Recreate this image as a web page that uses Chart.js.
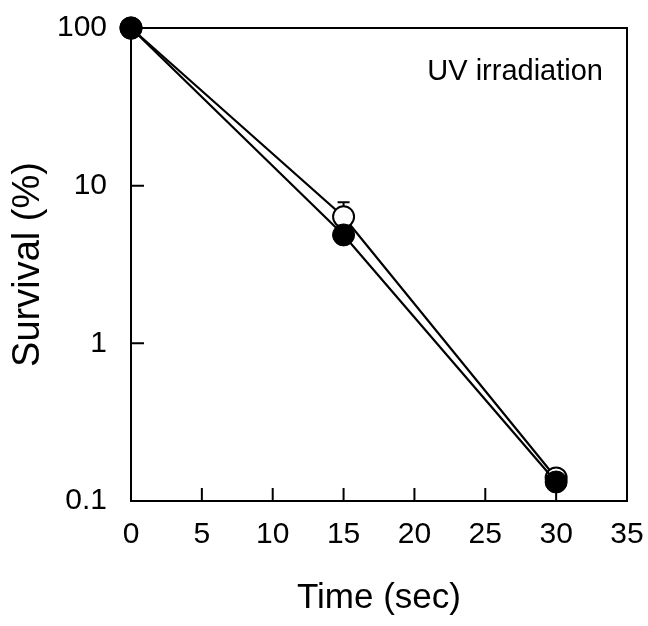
<!DOCTYPE html>
<html>
<head>
<meta charset="utf-8">
<script src="https://cdn.jsdelivr.net/npm/chart.js@4"></script>
<style>
  html, body { margin: 0; padding: 0; background: #fff; }
  #wrap { width: 648px; height: 626px; }
</style>
</head>
<body>
<div id="wrap"><canvas id="chart" width="648" height="626"></canvas></div>
<script>
const times = [0, 15, 30];
const filledSurvival = [100, 4.87, 0.132];
const openSurvival = [100, 6.35, 0.14];
const openError = [0, 1.5, 0];
const xTicks = [0, 5, 10, 15, 20, 25, 30, 35];
const yTicks = [0.1, 1, 10, 100];

const FONT = "'Liberation Sans', Arial, sans-serif";

const toPoints = (ys) => times.map((t, i) => ({ x: t, y: ys[i] }));

const noPad = (s) => {
    s.paddingLeft = 0; s.paddingRight = 0;
    s.paddingTop = 0; s.paddingBottom = 0;
};

// box, inward ticks, error bar, label
const framePlugin = {
    id: 'frame',
    beforeDatasetsDraw(chart) {
        const { ctx, scales: { x, y } } = chart;
        ctx.save();
        ctx.strokeStyle = '#000';
        ctx.lineWidth = 2;
        // error bars (under the markers)
        times.forEach((t, i) => {
            if (!openError[i]) return;
            const px = x.getPixelForValue(t);
            const top = y.getPixelForValue(openSurvival[i] + openError[i]);
            const bot = y.getPixelForValue(openSurvival[i] - openError[i]);
            ctx.beginPath();
            ctx.moveTo(px, top); ctx.lineTo(px, bot);
            ctx.moveTo(px - 6, top); ctx.lineTo(px + 6, top);
            ctx.stroke();
        });
        ctx.restore();
    },
    afterDraw(chart) {
        const { ctx, chartArea: a, scales: { x, y } } = chart;
        ctx.save();
        ctx.strokeStyle = '#000';
        ctx.lineWidth = 2;
        ctx.strokeRect(a.left, a.top, a.right - a.left, a.bottom - a.top);
        ctx.beginPath();
        xTicks.forEach(v => {
            const px = x.getPixelForValue(v);
            ctx.moveTo(px, a.bottom); ctx.lineTo(px, a.bottom - 13);
        });
        yTicks.forEach(v => {
            const py = y.getPixelForValue(v);
            ctx.moveTo(a.left, py); ctx.lineTo(a.left + 13, py);
        });
        ctx.stroke();
        ctx.fillStyle = '#000';
        ctx.font = '29px ' + FONT;
        ctx.textAlign = 'right';
        ctx.textBaseline = 'middle';
        ctx.fillText('UV irradiation', 603, 72);
        ctx.restore();
    }
};

const config = {
    type: 'line',
    data: {
        datasets: [
            {
                label: 'filled',
                data: toPoints(filledSurvival),
                borderColor: '#000',
                borderWidth: 2.2,
                backgroundColor: '#000',
                pointBackgroundColor: '#000',
                pointBorderColor: '#000',
                pointRadius: 11,
                pointBorderWidth: 1,
                clip: false,
                tension: 0
            },
            {
                label: 'open',
                data: toPoints(openSurvival),
                borderColor: '#000',
                borderWidth: 2.2,
                backgroundColor: '#fff',
                pointBackgroundColor: '#fff',
                pointBorderColor: '#000',
                pointRadius: 10.5,
                pointBorderWidth: 2,
                clip: false,
                tension: 0
            }
        ]
    },
    options: {
        responsive: false,
        animation: false,
        layout: { padding: { left: 0, top: 28, right: 21, bottom: 0 } },
        plugins: { legend: { display: false }, tooltip: { enabled: false } },
        scales: {
            x: {
                type: 'linear',
                min: 0,
                max: 35,
                afterBuildTicks: (s) => { s.ticks = xTicks.map(v => ({ value: v })); },
                afterFit: (s) => { s.height = 125; noPad(s); },
                grid: { display: false, drawTicks: false },
                border: { display: false },
                ticks: {
                    color: '#000',
                    font: { family: FONT, size: 30 },
                    padding: 16,
                    autoSkip: false,
                    maxRotation: 0
                },
                title: {
                    display: true,
                    text: 'Time (sec)',
                    color: '#000',
                    font: { family: FONT, size: 35 },
                    padding: { top: 0, bottom: 7 }
                }
            },
            y: {
                type: 'logarithmic',
                min: 0.1,
                max: 100,
                afterBuildTicks: (s) => { s.ticks = yTicks.map(v => ({ value: v })); },
                afterFit: (s) => { s.width = 131; noPad(s); },
                grid: { display: false, drawTicks: false },
                border: { display: false },
                ticks: {
                    color: '#000',
                    font: { family: FONT, size: 30 },
                    padding: 24,
                    callback: (v) => String(v)
                },
                title: {
                    display: true,
                    text: 'Survival (%)',
                    color: '#000',
                    font: { family: FONT, size: 38 },
                    padding: { top: 6, bottom: 0 }
                }
            }
        }
    },
    plugins: [framePlugin]
};

new Chart(document.getElementById('chart'), config);
</script>
</body>
</html>
